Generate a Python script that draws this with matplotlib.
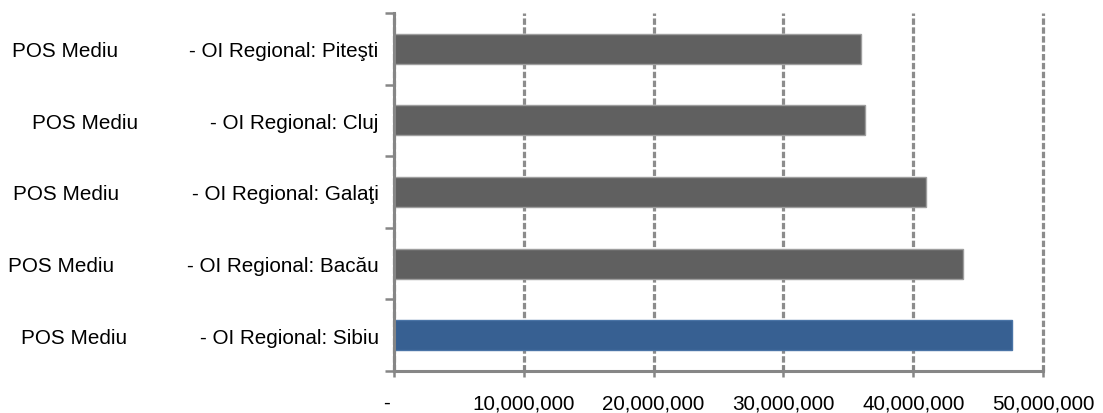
import matplotlib
matplotlib.use("Agg")
import matplotlib.pyplot as plt
import matplotlib.transforms as mtransforms
from matplotlib.ticker import FuncFormatter, FixedLocator

plt.rcParams['font.family'] = ['Liberation Sans', 'DejaVu Sans']
plt.rcParams['lines.scale_dashes'] = False

# ---- data (bottom to top) ----
prefix = "POS Mediu"
regions = ["Sibiu", "Bacău", "Galaţi", "Cluj", "Piteşti"]
values = [47_600_000, 43_800_000, 41_000_000, 36_300_000, 35_950_000]
highlight = ["Sibiu"]
x_ticks = [0, 10_000_000, 20_000_000, 30_000_000, 40_000_000, 50_000_000]

# ---- layout / style ----
W, H, DPI = 1103, 414, 100
prefix_left_px = [21, 8, 13, 32, 12]   # left edge of "POS Mediu" text per row
gray = "#606060"
gray_edge = "#9e9e9e"
blue = "#376092"
blue_edge = "#4a74a6"
axis_col = "#868686"
grid_col = "#8c8c8c"
fs = 14.9

fig = plt.figure(figsize=(W / DPI, H / DPI), dpi=DPI)
ax = fig.add_axes([394 / W, 1 - 372 / H, (1043 - 394) / W, (372 - 14) / H])

ypos = list(range(len(regions)))
colors = [blue if r in highlight else gray for r in regions]
edges = [blue_edge if r in highlight else gray_edge for r in regions]
ax.barh(ypos, values, height=0.42, color=colors, edgecolor=edges, linewidth=1.0, zorder=3)

ax.set_xlim(0, 50_000_000)
ax.set_ylim(-0.5, len(regions) - 0.5)

# x axis
ax.xaxis.set_major_locator(FixedLocator(x_ticks))
ax.xaxis.set_major_formatter(FuncFormatter(lambda v, p: "-" if v == 0 else f"{int(v):,}"))
ax.tick_params(axis='x', direction='inout', length=8, width=1.8, color=axis_col,
               labelsize=fs, pad=12, labelcolor='black')
ax.grid(axis='x', color=grid_col, linewidth=2.3, linestyle=(0, (4.6, 1.8)), zorder=1)
ax.set_axisbelow(True)
for gl in ax.get_xgridlines():
    gl.set_clip_on(False)
fig.canvas.draw()
for lab in ax.get_xticklabels():
    if lab.get_text() == "-":
        lab.set_transform(lab.get_transform() + mtransforms.ScaledTranslation(-8 / DPI, 0, fig.dpi_scale_trans))

# y axis
ax.set_yticks(ypos)
ax.set_yticklabels([f"- OI Regional: {r}" for r in regions], fontsize=fs)
ax.yaxis.set_minor_locator(FixedLocator([i - 0.5 for i in range(len(regions) + 1)]))
ax.tick_params(axis='y', which='major', length=0, pad=11)
ax.tick_params(axis='y', which='minor', length=6.5, width=1.8, color=axis_col, direction='out')

for s in ['top', 'right']:
    ax.spines[s].set_visible(False)
for s in ['left', 'bottom']:
    ax.spines[s].set_color(axis_col)
    ax.spines[s].set_linewidth(2.2)
    ax.spines[s].set_zorder(4)

trans = mtransforms.blended_transform_factory(fig.transFigure, ax.transData)
for y, px in zip(ypos, prefix_left_px):
    ax.text(px / W, y, prefix, transform=trans, ha='left', va='center_baseline',
            fontsize=fs, clip_on=False)

fig.savefig("out.png", dpi=DPI)
